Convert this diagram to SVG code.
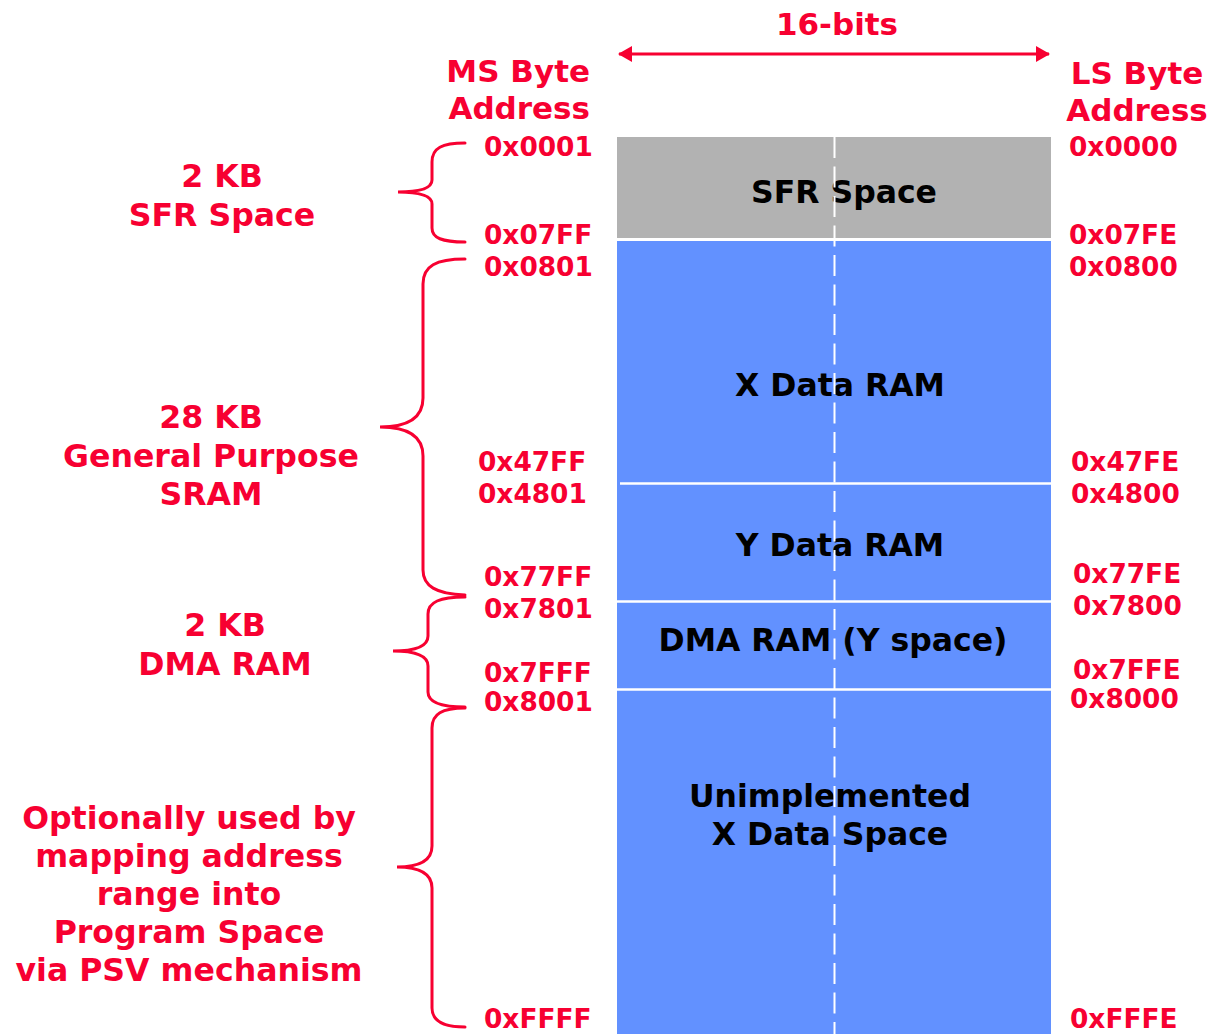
<svg xmlns="http://www.w3.org/2000/svg" width="1210" height="1034" viewBox="0 0 1210 1034">
  <style>
    text { font-family: "DejaVu Sans", Verdana, sans-serif; font-weight: bold; }
    .addr { font-size: 26.4px; fill: #F70031; }
    .head { font-size: 31px; fill: #F70031; }
    .side { font-size: 31.6px; fill: #F70031; text-anchor: middle; }
    .inner { font-size: 31.5px; fill: #000; text-anchor: middle; }
    .sfr { fill: #B2B2B2; }
    .ram { fill: #6291FF; }
    .divider { stroke: #FFFFFF; stroke-width: 2.5; }
    .brace { fill: none; stroke: #F70031; stroke-width: 3; stroke-linecap: round; }
    .span { stroke: #F70031; stroke-width: 3; }
  </style>
  <defs>
    <marker id="head" viewBox="0 0 14 16" refX="13" refY="8" markerWidth="14" markerHeight="16" markerUnits="userSpaceOnUse" orient="auto-start-reverse">
      <path d="M0,0 L14,8 L0,16 Z" fill="#F70031"/>
    </marker>
  </defs>

  <rect width="1210" height="1034" fill="#FFFFFF"/>

  <!-- memory word width -->
  <g id="width-label">
    <text class="head" x="837" y="35" text-anchor="middle">16-bits</text>
  </g>
  <g id="ms-header">
    <text class="head" x="590" y="82" text-anchor="end">MS Byte</text>
    <text class="head" x="590" y="119" text-anchor="end">Address</text>
  </g>
  <g id="ls-header">
    <text class="head" x="1137" y="84" text-anchor="middle">LS Byte</text>
    <text class="head" x="1137" y="121" text-anchor="middle">Address</text>
  </g>

  <!-- memory regions -->
  <g id="sfr-space">
    <rect class="sfr" x="617" y="137" width="434" height="101"/>
    <text class="inner" x="844" y="203">SFR Space</text>
  </g>
  <g id="x-data-ram">
    <rect class="ram" x="617" y="241" width="434" height="242"/>
    <text class="inner" x="840" y="396">X Data RAM</text>
  </g>
  <g id="y-data-ram">
    <rect class="ram" x="617" y="483" width="434" height="118"/>
    <text class="inner" x="840" y="556">Y Data RAM</text>
  </g>
  <g id="dma-ram">
    <rect class="ram" x="617" y="601" width="434" height="88"/>
    <text class="inner" x="833" y="651">DMA RAM (Y space)</text>
  </g>
  <g id="unimplemented">
    <rect class="ram" x="617" y="689" width="434" height="345"/>
    <text class="inner" x="830" y="807">Unimplemented</text>
    <text class="inner" x="830" y="845">X Data Space</text>
  </g>

  <!-- region boundaries and byte split -->
  <g id="boundaries">
    <line class="divider" x1="620" y1="483.5" x2="1051" y2="483.5"/>
    <line class="divider" x1="617" y1="601.5" x2="1051" y2="601.5"/>
    <line class="divider" x1="617" y1="689.5" x2="1051" y2="689.5"/>
    <line x1="834.5" y1="137" x2="834.5" y2="1034" stroke="#FFFFFF" stroke-width="2" stroke-dasharray="21 8.5"/>
  </g>

  <!-- MS byte addresses -->
  <g id="ms-addresses" class="addr">
    <text x="484" y="156">0x0001</text>
    <text x="484" y="244">0x07FF</text>
    <text x="484" y="276">0x0801</text>
    <text x="478" y="471">0x47FF</text>
    <text x="478" y="503">0x4801</text>
    <text x="484" y="586">0x77FF</text>
    <text x="484" y="618">0x7801</text>
    <text x="484" y="682">0x7FFF</text>
    <text x="484" y="711">0x8001</text>
    <text x="484" y="1028">0xFFFF</text>
  </g>

  <!-- LS byte addresses -->
  <g id="ls-addresses" class="addr">
    <text x="1069" y="156">0x0000</text>
    <text x="1069" y="244">0x07FE</text>
    <text x="1069" y="276">0x0800</text>
    <text x="1071" y="471">0x47FE</text>
    <text x="1071" y="503">0x4800</text>
    <text x="1073" y="583">0x77FE</text>
    <text x="1073" y="615">0x7800</text>
    <text x="1073" y="679">0x7FFE</text>
    <text x="1070" y="708">0x8000</text>
    <text x="1070" y="1028">0xFFFE</text>
  </g>

  <!-- region size notes -->
  <g id="note-sfr">
    <text class="side" x="222" y="187">2 KB</text>
    <text class="side" x="222" y="226">SFR Space</text>
  </g>
  <g id="note-sram">
    <text class="side" x="211" y="428">28 KB</text>
    <text class="side" x="211" y="467">General Purpose</text>
    <text class="side" x="211" y="505">SRAM</text>
  </g>
  <g id="note-dma">
    <text class="side" x="225" y="636">2 KB</text>
    <text class="side" x="225" y="675">DMA RAM</text>
  </g>
  <g id="note-psv">
    <text class="side" x="189" y="829">Optionally used by</text>
    <text class="side" x="189" y="867">mapping address</text>
    <text class="side" x="189" y="905">range into</text>
    <text class="side" x="189" y="943">Program Space</text>
    <text class="side" x="189" y="981">via PSV mechanism</text>
  </g>

  <!-- connectors: width arrow and range braces -->
  <g id="connectors">
    <line class="span" x1="619" y1="54" x2="1049" y2="54" marker-start="url(#head)" marker-end="url(#head)"/>
    <path class="brace" d="M465,143 C442,143 432,148 432,162 L432,180 C432,188 422,192 398,192 C422,192 432,196 432,204 L432,228 C432,238 442,242 465,242"/>
    <path class="brace" d="M465,259 C436,259 423,266 423,284 L423,398 C423,418 408,427 380,427 C408,427 423,436 423,456 L423,570 C423,586 436,594 465,595"/>
    <path class="brace" d="M465,597 C440,597 428,602 428,614 L428,636 C428,645 418,651 393,651 C418,651 428,657 428,666 L428,692 C428,702 440,707 465,707"/>
    <path class="brace" d="M465,708 C442,708 432,714 432,728 L432,846 C432,860 420,867 397,867 C420,867 432,874 432,888 L432,1008 C432,1020 442,1027 465,1027"/>
  </g>
</svg>
